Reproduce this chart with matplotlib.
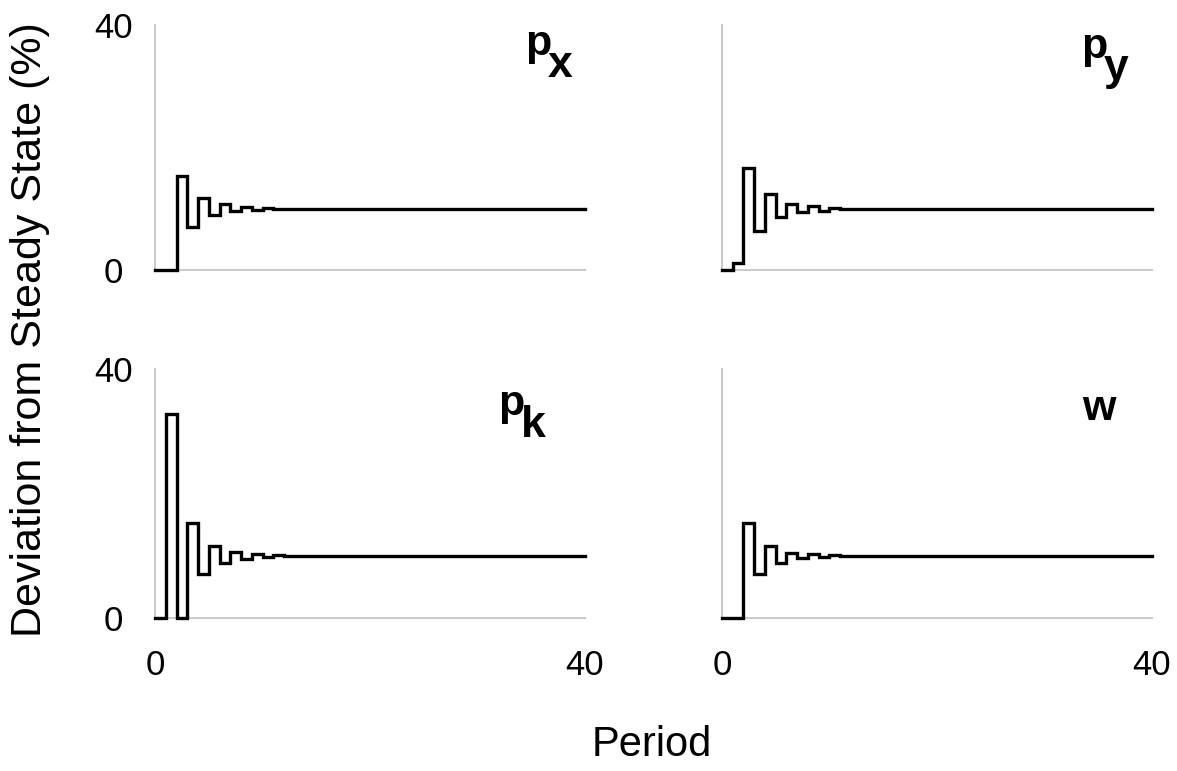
import matplotlib
matplotlib.use("Agg")
import matplotlib.pyplot as plt

plt.rcParams['font.family'] = ['Liberation Sans', 'DejaVu Sans']

# Periods 0..40 and percentage deviation from steady state for each price
periods = list(range(41))
px = [0.0, 0.0, 15.4, 7.0, 11.7, 8.9, 10.7, 9.6, 10.3, 9.8, 10.1,
      10.0, 10.0, 10.0, 10.0, 10.0, 10.0, 10.0, 10.0, 10.0, 10.0,
      10.0, 10.0, 10.0, 10.0, 10.0, 10.0, 10.0, 10.0, 10.0, 10.0,
      10.0, 10.0, 10.0, 10.0, 10.0, 10.0, 10.0, 10.0, 10.0, 10.0]
py = [0.0, 1.1, 16.7, 6.3, 12.4, 8.6, 10.7, 9.4, 10.4, 9.7, 10.2,
      9.9, 10.0, 10.0, 10.0, 10.0, 10.0, 10.0, 10.0, 10.0, 10.0,
      10.0, 10.0, 10.0, 10.0, 10.0, 10.0, 10.0, 10.0, 10.0, 10.0,
      10.0, 10.0, 10.0, 10.0, 10.0, 10.0, 10.0, 10.0, 10.0, 10.0]
pk = [0.0, 32.7, 0.0, 15.2, 7.1, 11.6, 8.9, 10.6, 9.5, 10.3, 9.8,
      10.1, 10.0, 10.0, 10.0, 10.0, 10.0, 10.0, 10.0, 10.0, 10.0,
      10.0, 10.0, 10.0, 10.0, 10.0, 10.0, 10.0, 10.0, 10.0, 10.0,
      10.0, 10.0, 10.0, 10.0, 10.0, 10.0, 10.0, 10.0, 10.0, 10.0]
w = [0.0, 0.0, 15.2, 7.0, 11.6, 8.9, 10.5, 9.6, 10.3, 9.8, 10.1,
     10.0, 10.0, 10.0, 10.0, 10.0, 10.0, 10.0, 10.0, 10.0, 10.0,
     10.0, 10.0, 10.0, 10.0, 10.0, 10.0, 10.0, 10.0, 10.0, 10.0,
     10.0, 10.0, 10.0, 10.0, 10.0, 10.0, 10.0, 10.0, 10.0, 10.0]

# panel name: (main letter, subscript)
panel_names = [("p", "x"), ("p", "y"), ("p", "k"), ("w", "")]
series = [px, py, pk, w]
x_ticks = [0, 40]
y_ticks = [0, 40]

W, H = 1177, 771
fig = plt.figure(figsize=(W / 100, H / 100), dpi=100)


def frac_rect(x0, y_top, x1, y_bot):
    return [x0 / W, 1 - y_bot / H, (x1 - x0) / W, (y_bot - y_top) / H]


rects = [frac_rect(155, 25, 585, 270), frac_rect(722, 25, 1152, 270),
         frac_rect(155, 369, 585, 618), frac_rect(722, 369, 1152, 618)]

# title placement (left x of main letter, baseline y) in pixels
title_pos = [(525, 55), (1081, 58), (498, 415), (1082, 420)]

axis_grey = "#c9c9c9"

for i, (rect, vals, name) in enumerate(zip(rects, series, panel_names)):
    ax = fig.add_axes(rect)
    ax.step(periods, vals, where="post", color="black", lw=2.4,
            clip_on=False, zorder=5, solid_joinstyle="miter")
    ax.set_xlim(0, 40)
    ax.set_ylim(0, 40)
    for s in ("top", "right"):
        ax.spines[s].set_visible(False)
    for s in ("left", "bottom"):
        ax.spines[s].set_color(axis_grey)
        ax.spines[s].set_linewidth(1.4)
    ax.tick_params(length=0)
    ax.set_xticks(x_ticks)
    ax.set_yticks(y_ticks)
    col, row = i % 2, i // 2
    if col == 0:
        ax.set_yticklabels([str(t) for t in y_ticks], fontsize=25,
                           ha="center")
        ax.tick_params(axis="y", pad=30)
    else:
        ax.set_yticklabels([])
    if row == 1:
        ax.set_xticklabels([str(t) for t in x_ticks], fontsize=25)
        ax.tick_params(axis="x", pad=22)
    else:
        ax.set_xticklabels([])

    tx, ty = title_pos[i]
    main, sub = name
    fig.text(tx / W, 1 - ty / H, main, fontsize=31, fontweight="bold",
             ha="left", va="baseline")
    if sub:
        fig.text((tx + 23) / W, 1 - (ty + 22) / H, sub, fontsize=32,
                 fontweight="bold", ha="left", va="baseline")

fig.text(30 / W, 1 - 330 / H, "Deviation from Steady State (%)",
         rotation=90, fontsize=31, ha="center", va="center")
fig.text(652 / W, 1 - 745 / H, "Period", fontsize=30,
         ha="center", va="center")

fig.savefig("out.png", dpi=100, facecolor="white")
